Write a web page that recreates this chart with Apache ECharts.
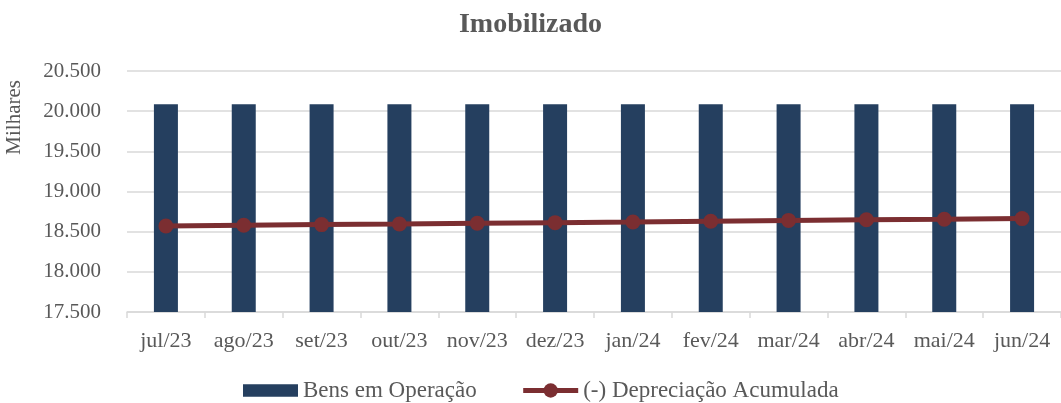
<!DOCTYPE html>
<html>
<head>
<meta charset="utf-8">
<script src="https://cdn.jsdelivr.net/npm/echarts@6/dist/echarts.min.js"></script>
<style>
html,body{margin:0;padding:0;background:#fff;}
#chart{width:1061px;height:403px;}
</style>
</head>
<body>
<div id="chart"></div>
<script>
const categories = ['jul/23','ago/23','set/23','out/23','nov/23','dez/23','jan/24','fev/24','mar/24','abr/24','mai/24','jun/24'];
const bensEmOperacao = [20085,20085,20085,20085,20085,20085,20085,20085,20085,20085,20085,20085];
const depreciacaoAcumulada = [18571,18580,18588,18596,18605,18612,18620,18630,18640,18648,18655,18663];
const yTicks = {min:17500, max:20500, interval:500};

const FONT = '"Liberation Serif", "DejaVu Serif", serif';
const TXT = '#595959';
const fmtN = v => String(v).replace(/\B(?=(\d{3})+(?!\d))/g,'.');

const chart = echarts.init(document.getElementById('chart'));
chart.setOption({
  animation:false,
  backgroundColor:'#fff',
  title:{
    text:'Imobilizado', left:'center', top:6,
    textStyle:{fontFamily:FONT, fontSize:28, fontWeight:'bold', color:TXT}
  },
  graphic:[{
    type:'text', left:4, top:80, rotation:Math.PI/2,
    style:{text:'Milhares', font:'21px "Liberation Serif", serif', fill:TXT}
  }],
  legend:{
    top:374, left:238, itemGap:44, itemWidth:55, itemHeight:18,
    textStyle:{fontFamily:FONT, fontSize:23, color:TXT},
    data:[
      {name:'Bens em Operação', icon:'path://M0,0H55V12.5H0Z'},
      {name:'(-) Depreciação Acumulada', lineStyle:{width:5, color:'#7b2e31'}, itemStyle:{color:'#7b2e31'}}
    ]
  },
  grid:{left:127, right:-7, top:71, bottom:91, containLabel:false},
  xAxis:{
    type:'category', data:categories, boundaryGap:true,
    axisLine:{lineStyle:{color:'#d9d9d9', width:1.5}},
    axisTick:{show:true, length:6, lineStyle:{color:'#d9d9d9', width:1.5}},
    axisLabel:{fontFamily:FONT, fontSize:22, color:TXT, margin:18, interval:0}
  },
  yAxis:{
    type:'value', min:yTicks.min, max:yTicks.max, interval:yTicks.interval,
    axisLine:{show:false}, axisTick:{show:false},
    splitLine:{lineStyle:{color:'#d9d9d9', width:1.5}},
    axisLabel:{fontFamily:FONT, fontSize:21, color:TXT, margin:26, formatter:fmtN}
  },
  series:[
    {
      name:'Bens em Operação', type:'bar', data:bensEmOperacao, barWidth:24,
      itemStyle:{color:'#253f5f'}
    },
    {
      name:'(-) Depreciação Acumulada', type:'line', data:depreciacaoAcumulada,
      symbol:'circle', symbolSize:15,
      lineStyle:{color:'#7b2e31', width:5},
      itemStyle:{color:'#7b2e31'}
    }
  ]
});
</script>
</body>
</html>
